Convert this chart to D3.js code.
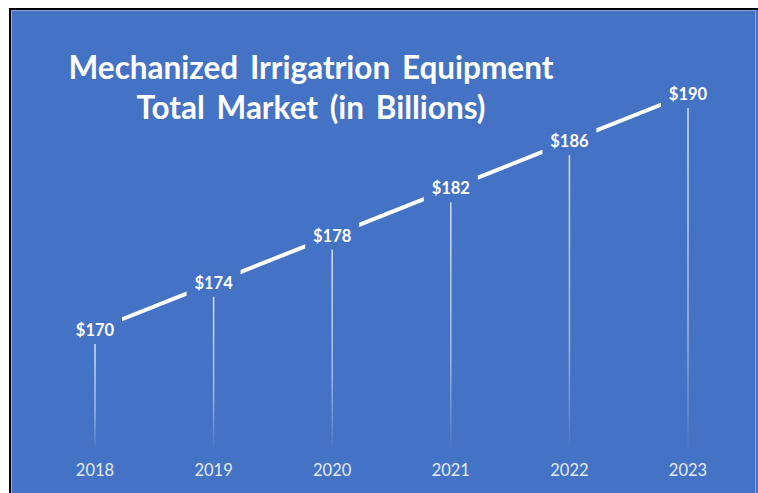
<!doctype html>
<html lang="en">
<head>
<script src="https://d3js.org/d3.v7.min.js"></script>
<style>
  body { margin: 0; background: #fff; }
  .title { fill: #fff; font-family: Lato, "Open Sans", sans-serif; font-weight: bold; font-size: 31.5px; text-anchor: middle; word-spacing: 4px; }
  .val-label { fill: #fff; font-family: Lato, sans-serif; font-weight: bold; font-size: 16.5px; text-anchor: middle; }
  .year-label { fill: #e3ebf7; font-family: Lato, sans-serif; font-size: 16.5px; text-anchor: middle; }
</style>
</head>
<body>
<div id="chart"></div>
<script>
  // data
  let years = ["2018", "2019", "2020", "2021", "2022", "2023"];
  let values = [170, 174, 178, 182, 186, 190];
  let titleLines = ["Mechanized Irrigatrion Equipment", "Total Market (in Billions)"];

  let W = 758, H = 493;
  let blue = "#4472c4";

  let svg = d3.select("#chart").append("svg")
      .attr("width", W).attr("height", H);

  // black frame edges (top/left) + blue panel
  svg.append("rect").attr("x", 9).attr("y", 8).attr("width", W - 9).attr("height", H - 8).attr("fill", "#000");
  svg.append("rect").attr("x", 11).attr("y", 10).attr("width", W - 11).attr("height", H - 10).attr("fill", blue);
  svg.append("path").attr("d", "M11.5,493V10.5H755.5V493")
     .attr("fill", "none").attr("stroke", "#8eaadb").attr("stroke-width", 1);

  let defs = svg.append("defs");
  let grad = defs.append("linearGradient").attr("id", "drop")
      .attr("x1", 0).attr("y1", 0).attr("x2", 0).attr("y2", 1);
  grad.append("stop").attr("offset", "0%").attr("stop-color", "#dbe5f5").attr("stop-opacity", 0.95);
  grad.append("stop").attr("offset", "65%").attr("stop-color", "#dbe5f5").attr("stop-opacity", 0.6);
  grad.append("stop").attr("offset", "100%").attr("stop-color", "#dbe5f5").attr("stop-opacity", 0.05);

  let xScale = d3.scalePoint().domain(years).range([95, 688]);
  let yScale = d3.scaleLinear().domain([160, 190]).range([448, 94]);

  // title
  svg.selectAll(".title").data(titleLines).enter().append("text")
     .attr("class", "title")
     .attr("x", 311)
     .attr("y", (d, i) => 79 + i * 40)
     .text(d => d);

  let data = years.map((y, i) => ({year: y, value: values[i]}));

  // drop lines
  svg.selectAll(".drop").data(data).enter().append("rect")
     .attr("class", "drop")
     .attr("x", d => xScale(d.year) - 0.75)
     .attr("width", 1.5)
     .attr("y", d => yScale(d.value) + 14)
     .attr("height", d => yScale(160) - yScale(d.value) - 14)
     .attr("fill", "url(#drop)");

  // trend line
  let line = d3.line().x(d => xScale(d.year)).y(d => yScale(d.value));
  svg.append("path").datum(data)
     .attr("d", line)
     .attr("fill", "none")
     .attr("stroke", "#fff")
     .attr("stroke-width", 4);

  // label backgrounds hide the line around each point
  svg.selectAll(".val-bg").data(data).enter().append("rect")
     .attr("class", "val-bg")
     .attr("x", d => xScale(d.year) - 27)
     .attr("y", d => yScale(d.value) - 13)
     .attr("width", 54).attr("height", 26)
     .attr("fill", blue);

  svg.selectAll(".val-label").data(data).enter().append("text")
     .attr("class", "val-label")
     .attr("x", d => xScale(d.year))
     .attr("y", d => yScale(d.value) + 6)
     .text(d => "$" + d.value);

  svg.selectAll(".year-label").data(data).enter().append("text")
     .attr("class", "year-label")
     .attr("x", d => xScale(d.year))
     .attr("y", 476)
     .text(d => d.year);
</script>
</body>
</html>
